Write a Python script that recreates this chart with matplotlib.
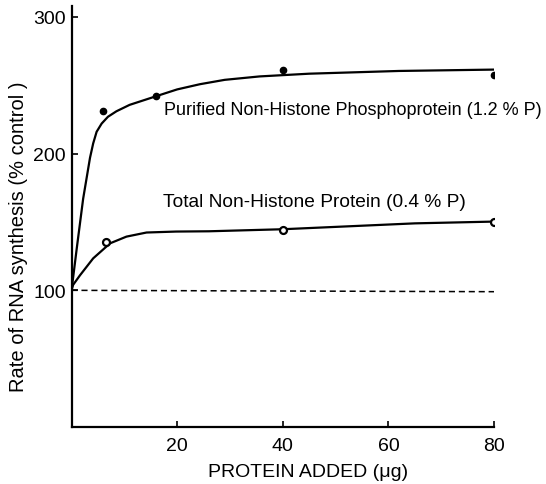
import matplotlib.pyplot as plt

plt.rcParams['font.family'] = ['Liberation Sans', 'DejaVu Sans']

# measured points
purified_x = [6, 16, 40, 80]
purified_y = [231.5, 242, 261.5, 257.5]
total_x = [6.5, 40, 80]
total_y = [135, 144.5, 150.3]

# hand-drawn fitted curves
purified_curve_x = [0, 1, 2.2, 3.5, 4.1, 4.75, 5.7, 6.9, 8.5, 11, 16, 20, 24.3, 29, 35.6, 45, 62, 80]
purified_curve_y = [100, 131, 167, 197, 207.5, 216, 222, 227, 231, 235.7, 242, 247, 250.8, 254, 256.5, 258.5, 260.5, 261.5]
total_curve_x = [0, 0.3, 1.6, 4.1, 7.3, 10.4, 14.2, 19.8, 26, 40, 65, 80]
total_curve_y = [100, 104, 111, 123.4, 134.4, 139.3, 142.3, 143, 143.2, 144.7, 149, 150.3]

control_x = [0, 80]
control_y = [100, 99]

fig = plt.figure(figsize=(5.46, 4.85), dpi=100)
ax = fig.add_axes([0.131, 0.1175, 0.774, 0.868])

ax.plot(purified_curve_x, purified_curve_y, color='black', lw=1.6)
ax.plot(purified_x, purified_y, 'o', color='black', ms=4.5)
ax.plot(total_curve_x, total_curve_y, color='black', lw=1.6)
ax.plot(total_x, total_y, 'o', color='black', mfc='white', mew=1.6, ms=5)
ax.plot(control_x, control_y, color='black', lw=1.1, ls=(0, (4, 2.5)))

ax.text(17.6, 232, 'Purified Non-Histone Phosphoprotein (1.2 % P)',
        fontsize=13, va='center', ha='left')
ax.text(17.3, 165, 'Total Non-Histone Protein (0.4 % P)',
        fontsize=13.8, va='center', ha='left')

ax.set_xlim(0, 80)
ax.set_ylim(0, 308)
ax.set_xticks([20, 40, 60, 80])
ax.set_yticks([100, 200, 300])
ax.tick_params(direction='in', length=4, width=1.2, labelsize=14)
ax.tick_params(axis='x', pad=7)
ax.tick_params(axis='y', pad=4)
for side in ['top', 'right']:
    ax.spines[side].set_visible(False)
for side in ['left', 'bottom']:
    ax.spines[side].set_linewidth(1.6)

ax.set_xlabel('PROTEIN ADDED (μg)', fontsize=14)
ax.xaxis.set_label_coords(0.56, -0.085)
ax.set_ylabel('Rate of RNA synthesis (% control )', fontsize=14.5)
ax.yaxis.set_label_coords(-0.103, 0.454)

fig.savefig('out.png', dpi=100)
